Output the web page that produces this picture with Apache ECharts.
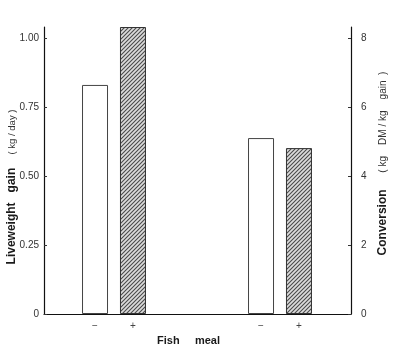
<!DOCTYPE html>
<html><head><meta charset="utf-8">
<script src="https://cdn.jsdelivr.net/npm/echarts@6/dist/echarts.min.js"></script>
<style>html,body{margin:0;padding:0;background:#fff}#c{width:400px;height:354px}</style>
</head><body><div id="c"></div>
<script>
// Data
const groups = ['Liveweight gain', 'Conversion'];
const fishMealLabels = ['−', '+'];
const gainNoFish = [0.83, '-'];      // kg/day (left axis)
const gainFish = [1.04, '-'];
const convNoFish = ['-', 5.1];       // kg DM/kg gain (right axis)
const convFish = ['-', 4.81];
const leftTicks = [0, 0.25, 0.5, 0.75, 1.0];
const leftTickLabels = ['0', '0.25', '0.50', '0.75', '1.00'];
const rightTicks = [0, 2, 4, 6, 8];
const rightTickLabels = ['0', '2', '4', '6', '8'];

// hatch pattern
const pc = document.createElement('canvas');
pc.width = 4; pc.height = 4;
const g = pc.getContext('2d');
g.fillStyle = '#dcdcdc'; g.fillRect(0, 0, 4, 4);
g.strokeStyle = '#4a4a4a'; g.lineWidth = 1.1;
g.beginPath();
g.moveTo(0, 4); g.lineTo(4, 0);
g.moveTo(-1, 1); g.lineTo(1, -1);
g.moveTo(3, 5); g.lineTo(5, 3);
g.stroke();
const hatch = { image: pc, repeat: 'repeat' };

const txt = '#1a1a1a';
const font = 'Liberation Sans, Arial, sans-serif';

function barLabel(sym) {
  return {
    show: true, position: ['50%', '100%'], offset: [0, 12], align: 'center', verticalAlign: 'middle',
    formatter: sym, color: '#444', fontSize: 10, fontFamily: font
  };
}
const white = { color: '#fff', borderColor: '#444', borderWidth: 1 };
const hatched = { color: hatch, borderColor: '#333', borderWidth: 1 };

const chart = echarts.init(document.getElementById('c'), null, { renderer: 'canvas' });
chart.setOption({
  backgroundColor: '#fff',
  animation: false,
  grid: [
    { left: 31, right: 37, top: 27, bottom: 40, outerBoundsMode: 'none', containLabel: false },
    { left: 44, right: 49, top: 27, bottom: 40, outerBoundsMode: 'none', containLabel: false }
  ],
  xAxis: [
    { type: 'category', gridIndex: 0, data: groups, axisLine: { show: false }, axisTick: { show: false }, axisLabel: { show: false } },
    { type: 'category', gridIndex: 0, data: groups, axisLine: { show: false }, axisTick: { show: false }, axisLabel: { show: false } },
    { type: 'value', gridIndex: 1, min: 0, max: 1, axisLine: { show: true, lineStyle: { color: '#111', width: 1.2 } },
      axisTick: { show: false }, axisLabel: { show: false }, splitLine: { show: false },
      name: 'Fish     meal', nameLocation: 'middle', nameGap: 21,
      nameTextStyle: { color: txt, fontSize: 11, fontWeight: 'bold', fontFamily: font, padding: [0, 18, 0, 0] } }
  ],
  yAxis: [
    { type: 'value', gridIndex: 0, position: 'left', offset: -13, min: 0, max: 1.04,
      axisLine: { show: true, lineStyle: { color: '#111', width: 1.2 } },
      axisTick: { show: true, inside: true, length: 3, customValues: leftTicks, lineStyle: { color: '#333' } },
      axisLabel: { customValues: leftTicks, color: '#333', fontSize: 10, fontFamily: font, margin: 5,
        formatter: v => leftTickLabels[leftTicks.indexOf(v)] },
      splitLine: { show: false },
      name: '{a|Liveweight   gain}    {b|( kg / day )}', nameLocation: 'middle', nameGap: 26, nameRotate: 90,
      nameMoveOverlap: false,
      nameTextStyle: { padding: [0, 33, 0, 0], rich: {
        a: { fontSize: 12, fontWeight: 'bold', color: txt, fontFamily: font },
        b: { fontSize: 9.5, color: '#333', fontFamily: font } } } },
    { type: 'value', gridIndex: 0, position: 'right', offset: -12, min: 0, max: 8.32,
      axisLine: { show: true, lineStyle: { color: '#111', width: 1.2 } },
      axisTick: { show: true, inside: true, length: 3, customValues: rightTicks, lineStyle: { color: '#333' } },
      axisLabel: { customValues: rightTicks, color: '#333', fontSize: 10, fontFamily: font, margin: 10,
        formatter: v => rightTickLabels[rightTicks.indexOf(v)] },
      splitLine: { show: false },
      name: '{a|Conversion}     {b|( kg    DM / kg    gain  )}', nameLocation: 'middle', nameGap: 26, nameRotate: 90,
      nameMoveOverlap: false,
      nameTextStyle: { padding: [0, 0, 0, 14], rich: {
        a: { fontSize: 12, fontWeight: 'bold', color: txt, fontFamily: font },
        b: { fontSize: 10, color: '#333', fontFamily: font } } } },
    { type: 'value', gridIndex: 1, show: false }
  ],
  series: [
    { type: 'bar', xAxisIndex: 0, yAxisIndex: 0, data: gainNoFish, barWidth: 26, barGap: '46%', itemStyle: white, label: barLabel(fishMealLabels[0]) },
    { type: 'bar', xAxisIndex: 0, yAxisIndex: 0, data: gainFish, barWidth: 26, barGap: '46%', itemStyle: hatched, label: barLabel(fishMealLabels[1]) },
    { type: 'bar', xAxisIndex: 1, yAxisIndex: 1, data: convNoFish, barWidth: 26, barGap: '46%', itemStyle: white, label: barLabel(fishMealLabels[0]) },
    { type: 'bar', xAxisIndex: 1, yAxisIndex: 1, data: convFish, barWidth: 26, barGap: '46%', itemStyle: hatched, label: barLabel(fishMealLabels[1]) }
  ]
});
</script></body></html>
